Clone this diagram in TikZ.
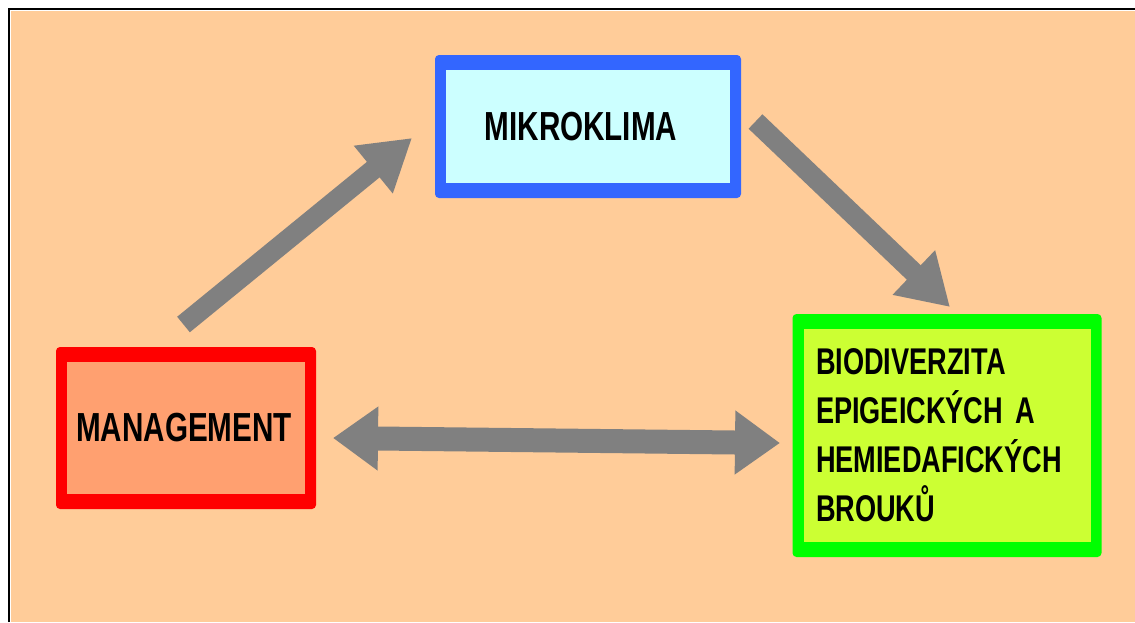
\documentclass[tikz,border=0pt]{standalone}
\usepackage{fontspec}
\newfontfamily\diagfont[FakeStretch=0.73]{Liberation Sans}
\usetikzlibrary{arrows.meta}
\DeclareRobustCommand\tightspaces{\spaceskip=3.5pt\relax}

\definecolor{peach}{HTML}{FFCC99}
\definecolor{mikroblue}{HTML}{3366FF}
\definecolor{mikrofill}{HTML}{CCFFFF}
\definecolor{mgmtred}{HTML}{FF0000}
\definecolor{mgmtfill}{HTML}{FFA070}
\definecolor{biogreen}{HTML}{00FF00}
\definecolor{biofill}{HTML}{CCFF33}
\definecolor{arrowgray}{HTML}{808080}

\begin{document}
\begin{tikzpicture}[
    x=0.5pt, y=-0.5pt,
    box/.style 2 args={fill=#1, rounded corners=2pt, inner sep=0pt,
        path picture={\fill[#2, sharp corners] ([shift={(5.5pt,-7.5pt)}]path picture bounding box.north west) rectangle ([shift={(-5.5pt,7.5pt)}]path picture bounding box.south east);}},
    bigfont/.style={font=\diagfont\bfseries\fontsize{20.3}{24}\selectfont},
    smallfont/.style={font=\diagfont\bfseries\fontsize{18.6}{24.5}\selectfont\tightspaces},
    arrow/.style={draw=arrowgray, line width=10pt, -{Triangle[length=25pt,width=29pt]}},
    biarrow/.style={draw=arrowgray, line width=12pt, {Triangle[length=22.5pt,width=30.5pt]}-{Triangle[length=22.5pt,width=30.5pt]}}
]
    \useasboundingbox (0,0) rectangle (1135,622);
    \fill[peach] (11,11) rectangle (1135,622);
    \draw[line width=1pt] (9,622) -- (9,9) -- (1135,9);

    \node [box={mikroblue}{mikrofill}, bigfont, minimum width=153pt, minimum height=71.5pt] (mikro) at (588,126.5) {MIKROKLIMA\hspace*{7pt}};
    \node [box={mgmtred}{mgmtfill}, bigfont, minimum width=130pt, minimum height=81pt] (mgmt) at (186,428) {MANAGEMENT\hspace*{2pt}};
    \node [box={biogreen}{biofill}, smallfont, minimum width=154.5pt, minimum height=121.5pt, text width=131pt, align=left] (bio) at (947,435.5) {BIODIVERZITA\\EPIGEICKÝCH A\\HEMIEDAFICKÝCH\\BROUKŮ};

    \coordinate (mgmt out) at (183.5,324.5);
    \coordinate (mikro in) at (412,138);
    \coordinate (mikro out) at (755.5,121.5);
    \coordinate (bio in) at (950,307);
    \coordinate (mgmt side) at (333,438);
    \coordinate (bio side) at (780,443);

    \draw [arrow] (mgmt out) -- (mikro in);
    \draw [arrow] (mikro out) -- (bio in);
    \draw [biarrow] (mgmt side) -- (bio side);
\end{tikzpicture}
\end{document}
